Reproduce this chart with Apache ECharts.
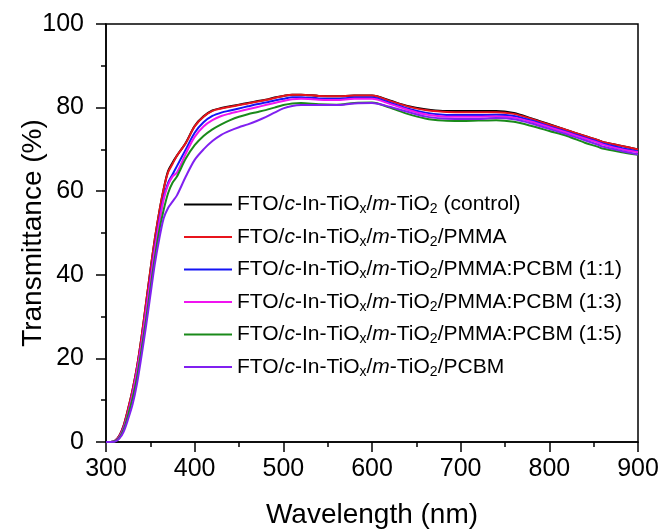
<!DOCTYPE html>
<html>
<head>
<meta charset="utf-8">
<script src="https://cdn.jsdelivr.net/npm/echarts@6/dist/echarts.min.js"></script>
<style>html,body{margin:0;padding:0;background:#fff}#c{width:662px;height:530px}</style>
</head>
<body>
<div id="c"></div>
<script>
const wavelength = [300,305,310,315,320,325,330,335,340,345,350,355,360,365,370,375,380,390,400,410,420,430,440,450,460,470,480,490,500,510,520,540,560,580,600,620,640,660,680,700,720,740,760,780,800,820,840,855,860,880,900];

const control = [0,0,0.3,1.5,4,8,12.5,18,25,33,41,48.5,55,60.5,64.8,66.8,68.5,71.6,75.6,77.9,79.3,79.9,80.3,80.7,81.1,81.5,81.9,82.4,82.8,83.1,83.1,82.8,82.7,82.9,82.9,81.7,80.4,79.6,79.2,79.2,79.2,79.2,78.7,77.4,76.0,74.6,73.2,72.2,71.8,70.9,70.0];
const pmma = [0,0,0.3,1.5,4,8,12.5,18,25,33,41,48.5,55,60.5,64.5,66.5,68.5,71.5,75.5,77.8,79.2,79.8,80.2,80.6,81.0,81.4,81.8,82.3,82.8,83.1,83.1,82.8,82.7,82.9,82.9,81.6,80.3,79.4,79.0,78.9,78.9,78.9,78.5,77.3,75.9,74.6,73.2,72.2,71.8,70.9,70.0];
const pcbm11 = [0,0,0.2,1.2,3.5,7,11.5,17,23.5,31,39,46.5,53,58.5,62,64,66,70,74,76.5,78,78.8,79.3,79.8,80.3,80.8,81.2,81.7,82.1,82.5,82.5,82.2,82.1,82.4,82.4,81.2,79.8,78.8,78.3,78.2,78.2,78.3,78.0,76.9,75.5,74.2,72.8,71.8,71.4,70.4,69.5];
const pcbm13 = [0,0,0.2,1.2,3.4,7,11.5,17,23.5,31,38.5,46,52.5,58,61.5,63.5,64.5,69,73,75.5,77,78,78.6,79.1,79.6,80.1,80.6,81.1,81.6,82.0,82.1,81.9,81.8,82.1,82.1,80.9,79.5,78.4,77.9,77.8,77.8,77.9,77.6,76.6,75.3,74.0,72.6,71.6,71.2,70.1,69.3];
const pcbm15 = [0,0,0.2,1,3,6.5,10.5,15.5,22,29,36.5,44,50.5,55.5,59.5,62,63.5,67.8,71,73.2,74.8,76,77,77.8,78.4,78.9,79.4,80.0,80.6,81.0,81.1,80.8,80.7,81.1,81.2,80.0,78.5,77.4,76.9,76.8,76.9,77.0,76.6,75.6,74.4,73.2,71.6,70.6,70.2,69.4,68.7];
const pcbm = [0,0,0.1,0.8,2.5,5.5,9,14,20.5,27.5,35,42.5,48.5,53.5,56,57.5,59,63.5,67.5,70,72,73.5,74.5,75.3,76,76.8,77.7,78.8,79.8,80.4,80.6,80.6,80.6,81.0,81.1,80.2,79.0,77.9,77.4,77.3,77.3,77.5,77.2,76.2,74.9,73.6,72.2,71.1,70.7,69.7,68.8];

const seriesNames = [
  'FTO/c-In-TiOx/m-TiO2 (control)',
  'FTO/c-In-TiOx/m-TiO2/PMMA',
  'FTO/c-In-TiOx/m-TiO2/PMMA:PCBM (1:1)',
  'FTO/c-In-TiOx/m-TiO2/PMMA:PCBM (1:3)',
  'FTO/c-In-TiOx/m-TiO2/PMMA:PCBM (1:5)',
  'FTO/c-In-TiOx/m-TiO2/PCBM'
];
const seriesValues = [control, pmma, pcbm11, pcbm13, pcbm15, pcbm];
const seriesColors = ['#000000', '#e8141c', '#1414f5', '#f014f0', '#1a8a1a', '#8020f0'];
const legendSuffix = [' (control)', '/PMMA', '/PMMA:PCBM (1:1)', '/PMMA:PCBM (1:3)', '/PMMA:PCBM (1:5)', '/PCBM'];

const FONT = '"Liberation Sans", Arial, sans-serif';

const chart = echarts.init(document.getElementById('c'));
const series = seriesNames.map((name, i) => ({
  name: name,
  type: 'line',
  symbol: 'none',
  showSymbol: false,
  smooth: 0.3,
  lineStyle: { width: 2, color: seriesColors[i] },
  itemStyle: { color: seriesColors[i] },
  data: wavelength.map((w, j) => [w, seriesValues[i][j]]),
  z: 2 + i
}));

chart.setOption({
  animation: false,
  backgroundColor: '#fff',
  grid: { left: 106, right: 24, top: 24, bottom: 88, containLabel: false, outerBoundsMode: 'none', show: true, borderColor: '#000', borderWidth: 1.5, backgroundColor: 'transparent' },
  legend: {
    orient: 'vertical',
    left: 179,
    top: 189,
    icon: 'rect',
    itemWidth: 48,
    itemHeight: 2,
    itemGap: 10,
    data: seriesNames,
    formatter: function (name) {
      const i = seriesNames.indexOf(name);
      return '{n|FTO/}{i|c}{n|-In-TiO}{s|x}{n|/}{i|m}{n|-TiO}{s|2}{n|' + legendSuffix[i] + '}';
    },
    textStyle: {
      color: '#000',
      fontFamily: FONT,
      fontSize: 21,
      rich: {
        n: { fontSize: 21, fontFamily: FONT, color: '#000', lineHeight: 24 },
        i: { fontSize: 21, fontFamily: FONT, color: '#000', fontStyle: 'italic', lineHeight: 24 },
        s: { fontSize: 14, fontFamily: FONT, color: '#000', padding: [10, 0, 0, 0] }
      }
    }
  },
  xAxis: {
    type: 'value',
    min: 300, max: 900, interval: 100,
    name: 'Wavelength (nm)',
    nameLocation: 'middle',
    nameGap: 59,
    nameMoveOverlap: false,
    nameTextStyle: { fontSize: 28, fontFamily: FONT, color: '#000' },
    axisLine: { lineStyle: { color: '#000', width: 1.5 } },
    axisTick: { inside: false, length: 10, lineStyle: { color: '#000', width: 1.5 } },
    minorTick: { show: true, splitNumber: 2, length: 5, lineStyle: { color: '#000', width: 1.5 } },
    axisLabel: { fontSize: 25, fontFamily: FONT, color: '#000', margin: 15 },
    splitLine: { show: false }
  },
  yAxis: {
    type: 'value',
    min: 0, max: 100, interval: 20,
    name: 'Transmittance (%)',
    nameLocation: 'middle',
    nameGap: 59,
    nameMoveOverlap: false,
    nameTextStyle: { fontSize: 28, fontFamily: FONT, color: '#000' },
    axisLine: { show: true, lineStyle: { color: '#000', width: 1.5 } },
    axisTick: { show: true, inside: false, length: 10, lineStyle: { color: '#000', width: 1.5 } },
    minorTick: { show: true, splitNumber: 2, length: 5, lineStyle: { color: '#000', width: 1.5 } },
    axisLabel: { fontSize: 25, fontFamily: FONT, color: '#000', margin: 22 },
    splitLine: { show: false }
  },
  series: series
});
</script>
</body>
</html>
